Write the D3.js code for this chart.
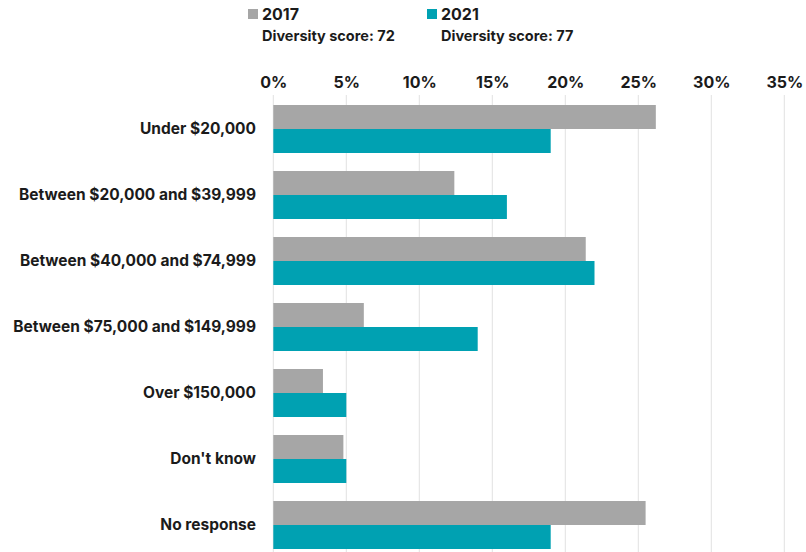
<!DOCTYPE html>
<html>
<head>
<meta charset="utf-8">
<script src="https://cdn.jsdelivr.net/npm/d3@7"></script>
<style>
  body { margin: 0; background: #fff; }
  svg { display: block; font-family: Inter, "Noto Sans", sans-serif; }
</style>
</head>
<body>
<svg id="chart" width="806" height="552"></svg>
<script>
var categories = [
  "Under $20,000",
  "Between $20,000 and $39,999",
  "Between $40,000 and $74,999",
  "Between $75,000 and $149,999",
  "Over $150,000",
  "Don't know",
  "No response",
];
var series = ["2017", "2021"];
var values2017 = [26.2, 12.4, 21.4, 6.2, 3.4, 4.8, 25.5];
var values2021 = [19.0, 16.0, 22.0, 14.0, 5.0, 5.0, 19.0];
var diversityScores = [72, 77];
var xTicks = [0, 5, 10, 15, 20, 25, 30, 35];

var colors = { "2017": "#a6a6a6", "2021": "#00a1b2" };
var textColor = "#1b1b1b";

var svg = d3.select("#chart");

var x = d3.scaleLinear().domain([0, 35]).range([273.3, 784.3]);

var y = d3
  .scaleBand()
  .domain(categories)
  .range([105, 549])
  .paddingInner(18 / 66)
  .paddingOuter(0);

var ySub = d3.scaleBand().domain(series).range([0, y.bandwidth()]);

// gridlines
svg
  .append("g")
  .selectAll("line")
  .data(xTicks)
  .enter()
  .append("line")
  .attr("x1", (d) => x(d))
  .attr("x2", (d) => x(d))
  .attr("y1", 95)
  .attr("y2", 552)
  .attr("stroke", "#e2e2e2")
  .attr("stroke-width", 1);

// tick labels on top
var xAxis = d3
  .axisTop(x)
  .tickValues(xTicks)
  .tickSize(0)
  .tickPadding(0)
  .tickFormat((d) => d + "%");

var axisG = svg.append("g").attr("transform", "translate(0,88)").call(xAxis);
axisG.select(".domain").remove();
axisG
  .selectAll("text")
  .attr("fill", textColor)
  .style("font-size", "16px")
  .style("font-weight", 700)
  .style("font-family", "Inter, sans-serif");

// bars
var rows = categories.map((c, i) => ({
  category: c,
  values: [
    { key: "2017", value: values2017[i] },
    { key: "2021", value: values2021[i] },
  ],
}));

var groups = svg
  .append("g")
  .selectAll("g")
  .data(rows)
  .enter()
  .append("g")
  .attr("transform", (d) => `translate(0, ${y(d.category)})`);

groups
  .selectAll("rect")
  .data((d) => d.values)
  .enter()
  .append("rect")
  .attr("x", x(0))
  .attr("y", (d) => ySub(d.key))
  .attr("width", (d) => x(d.value) - x(0))
  .attr("height", ySub.bandwidth())
  .attr("fill", (d) => colors[d.key]);

// category labels
groups
  .append("text")
  .attr("x", 256)
  .attr("y", y.bandwidth() / 2)
  .attr("dy", "0.35em")
  .attr("text-anchor", "end")
  .attr("fill", textColor)
  .style("font-size", "15.5px")
  .style("font-weight", 700)
  .text((d) => d.category);

// legend
var legendX = [248, 427];
var legend = svg
  .append("g")
  .selectAll("g")
  .data(series)
  .enter()
  .append("g")
  .attr("transform", (d, i) => `translate(${legendX[i]}, 0)`);

legend
  .append("rect")
  .attr("x", 0)
  .attr("y", 9)
  .attr("width", 10)
  .attr("height", 10)
  .attr("fill", (d) => colors[d]);

legend
  .append("text")
  .attr("x", 14)
  .attr("y", 20)
  .attr("fill", textColor)
  .style("font-size", "16px")
  .style("font-weight", 700)
  .text((d) => d);

legend
  .append("text")
  .attr("x", 14)
  .attr("y", 41)
  .attr("fill", textColor)
  .style("font-size", "14.5px")
  .style("font-weight", 700)
  .text((d, i) => "Diversity score: " + diversityScores[i]);
</script>
</body>
</html>
